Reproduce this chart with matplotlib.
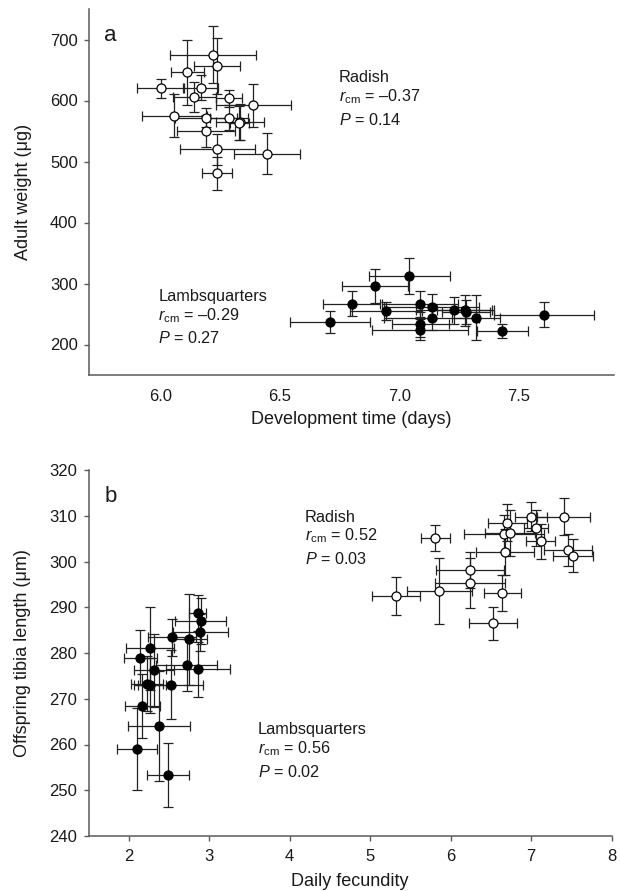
import matplotlib
matplotlib.use("Agg")
import matplotlib.pyplot as plt

plt.rcParams['font.family'] = ['Liberation Sans', 'DejaVu Sans']
plt.rcParams['mathtext.fontset'] = 'custom'
plt.rcParams['mathtext.rm'] = 'Liberation Sans'
plt.rcParams['mathtext.it'] = 'Liberation Sans:italic'

# ---------------- Panel a: development time vs adult weight ----------------
a_rad_x = [6.221, 6.237, 6.112, 6.000, 6.168, 6.142, 6.288, 6.388, 6.057, 6.190,
           6.288, 6.332, 6.330, 6.190, 6.237, 6.446, 6.237]
a_rad_y = [675, 656, 646, 620, 621, 606, 604, 592, 575, 572, 572, 565, 563, 550, 520, 513, 481]
a_rad_xerr = [0.18, 0.095, 0.07, 0.10, 0.073, 0.09, 0.054, 0.157, 0.137, 0.13,
              0.08, 0.10, 0.04, 0.12, 0.157, 0.14, 0.062]
a_rad_yerr = [47, 46, 54, 16, 20, 25, 14, 35, 35, 15, 20, 30, 28, 26, 25, 33, 27]

a_lam_x = [6.709, 6.801, 6.897, 7.042, 6.945, 7.088, 7.136, 7.088, 7.088, 7.136,
           7.229, 7.277, 7.280, 7.323, 7.432, 7.607]
a_lam_y = [237, 267, 296, 312, 255, 266, 262, 233, 224, 244, 256, 256, 253, 244, 222, 249]
a_lam_xerr = [0.168, 0.12, 0.138, 0.17, 0.15, 0.16, 0.20, 0.12, 0.20, 0.20,
              0.16, 0.12, 0.10, 0.10, 0.106, 0.21]
a_lam_yerr = [18, 21, 28, 30, 15, 21, 21, 20, 17, 20, 22, 25, 20, 37, 12, 20]

# ---------------- Panel b: daily fecundity vs offspring tibia length ----------------
b_lam_x = [2.855, 2.893, 2.888, 2.541, 2.752, 2.260, 2.145, 2.719, 2.318, 2.860,
           2.230, 2.260, 2.520, 2.169, 2.376, 2.103, 2.488]
b_lam_y = [288.7, 287.0, 284.5, 283.4, 283.0, 281.0, 279.0, 277.4, 276.2, 276.4,
           273.3, 272.9, 273.1, 268.4, 264.1, 259.0, 253.4]
b_lam_xerr = [0.11, 0.32, 0.34, 0.30, 0.22, 0.30, 0.20, 0.38, 0.25, 0.40,
              0.20, 0.20, 0.40, 0.22, 0.38, 0.25, 0.26]
b_lam_yerr = [4.0, 5.0, 4.0, 4.0, 10.0, 9.0, 6.0, 5.6, 8.0, 6.0,
              6.0, 6.0, 7.5, 7.0, 12.0, 9.0, 7.0]

b_rad_x = [5.321, 5.805, 5.859, 6.240, 6.240, 6.642, 6.522, 6.675, 6.704, 6.660,
           6.737, 6.998, 7.064, 7.118, 7.404, 7.460, 7.516]
b_rad_y = [292.5, 305.1, 293.6, 298.1, 295.3, 293.1, 286.5, 302.1, 308.5, 306.1,
           306.3, 309.8, 307.3, 304.4, 309.8, 302.5, 301.3]
b_rad_xerr = [0.30, 0.18, 0.40, 0.42, 0.43, 0.23, 0.30, 0.36, 0.24, 0.50,
              0.31, 0.20, 0.15, 0.18, 0.33, 0.30, 0.25]
b_rad_yerr = [4.2, 2.9, 7.2, 4.0, 5.5, 3.9, 3.6, 5.0, 4.0, 4.0,
              5.0, 3.1, 4.0, 3.8, 4.0, 3.5, 3.7]

a_yticks = [200, 300, 400, 500, 600, 700]
a_xticks = [6.0, 6.5, 7.0, 7.5]
b_yticks = [240, 250, 260, 270, 280, 290, 300, 310, 320]
b_xticks = [2, 3, 4, 5, 6, 7, 8]

W, H = 620, 891
fig = plt.figure(figsize=(W / 100, H / 100), dpi=100)

def px_axes(l, t, r, b):
    return fig.add_axes([l / W, 1 - b / H, (r - l) / W, (b - t) / H])

axA = px_axes(89, 9, 614, 375)
axB = px_axes(88.5, 470, 611.7, 836)

ecol = '#222222'
spine_col = '#5a5a5a'
txt_col = '#1a1a1a'

def draw(ax, x, y, xe, ye, filled):
    ax.errorbar(x, y, xerr=xe, yerr=ye, fmt='o', ms=6.5,
                mfc='black' if filled else 'white', mec='black', mew=0.9,
                ecolor=ecol, elinewidth=0.9, capsize=3.5, capthick=0.9, zorder=3)

draw(axA, a_rad_x, a_rad_y, a_rad_xerr, a_rad_yerr, False)
draw(axA, a_lam_x, a_lam_y, a_lam_xerr, a_lam_yerr, True)
draw(axB, b_lam_x, b_lam_y, b_lam_xerr, b_lam_yerr, True)
draw(axB, b_rad_x, b_rad_y, b_rad_xerr, b_rad_yerr, False)

for ax in (axA, axB):
    for s in ('top', 'right'):
        ax.spines[s].set_visible(False)
    for s in ('left', 'bottom'):
        ax.spines[s].set_color(spine_col)
        ax.spines[s].set_linewidth(1.1)
    ax.tick_params(colors=spine_col, labelcolor=txt_col, labelsize=12, width=1.0, length=3.6)
    ax.tick_params(axis='y', pad=4.5)

axA.set_xlim(5.70, 7.90)
axA.set_ylim(150, 750)
axA.set_xticks(a_xticks)
axA.set_xticklabels([f"{v:.1f}" for v in a_xticks])
axA.set_yticks(a_yticks)
axA.tick_params(axis='x', length=0, pad=10)
axA.set_xlabel('Development time (days)', fontsize=13, color=txt_col, labelpad=5)
axA.set_ylabel('Adult weight (μg)', fontsize=13, color=txt_col)
axA.yaxis.set_label_coords(-0.108, 0.5)

axB.set_xlim(1.5, 8)
axB.set_ylim(240, 320)
axB.set_xticks(b_xticks)
axB.set_yticks(b_yticks)
axB.tick_params(axis='x', pad=6)
axB.set_xlabel('Daily fecundity', fontsize=13, color=txt_col, labelpad=6)
axB.set_ylabel('Offspring tibia length (μm)', fontsize=13, color=txt_col)
axB.yaxis.set_label_coords(-0.110, 0.5)

def label_block(ax, x, ys, lines):
    for yy, t in zip(ys, lines):
        ax.text(x, yy, t, transform=ax.transAxes, fontsize=11.7, color=txt_col,
                va='center', ha='left')

axA.text(0.041, 0.928, 'a', transform=axA.transAxes, fontsize=16, va='center', ha='center', color=txt_col)
axB.text(0.043, 0.927, 'b', transform=axB.transAxes, fontsize=16, va='center', ha='center', color=txt_col)

label_block(axA, 0.476, [0.8115, 0.7596, 0.6967],
            ['Radish', r'$r_{\rm cm}$ = –0.37', r'$P$ = 0.14'])
label_block(axA, 0.132, [0.214, 0.161, 0.102],
            ['Lambsquarters', r'$r_{\rm cm}$ = –0.29', r'$P$ = 0.27'])
label_block(axB, 0.414, [0.871, 0.820, 0.757],
            ['Radish', r'$r_{\rm cm}$ = 0.52', r'$P$ = 0.03'])
label_block(axB, 0.324, [0.2915, 0.240, 0.1757],
            ['Lambsquarters', r'$r_{\rm cm}$ = 0.56', r'$P$ = 0.02'])

fig.savefig('out.png', dpi=100)
